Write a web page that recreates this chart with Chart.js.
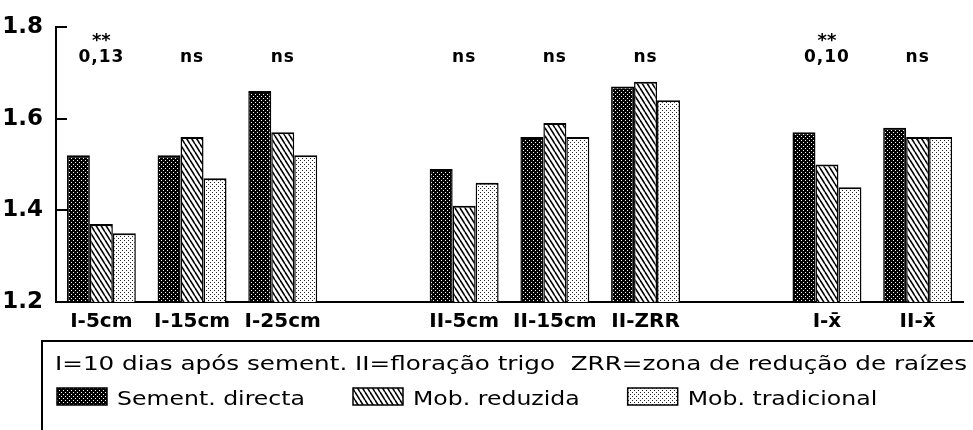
<!DOCTYPE html>
<html>
<head>
<meta charset="utf-8">
<script src="https://cdn.jsdelivr.net/npm/chart.js@4.4.1/dist/chart.umd.min.js"></script>
<style>
  html, body { margin: 0; padding: 0; background: #fff; }
  #wrap { width: 973px; height: 430px; }
</style>
</head>
<body>
<div id="wrap"><canvas id="densChart" width="973" height="430"></canvas></div>
<script>
// blank slots separate the three blocks of bars
const categories = ["I-5cm", "I-15cm", "I-25cm", "", "II-5cm", "II-15cm", "II-ZRR", "", "I-x\u0304", "II-x\u0304"];
const sementDirecta  = [1.52, 1.52, 1.66, null, 1.49, 1.56, 1.67, null, 1.57, 1.58];
const mobReduzida    = [1.37, 1.56, 1.57, null, 1.41, 1.59, 1.68, null, 1.50, 1.56];
const mobTradicional = [1.35, 1.47, 1.52, null, 1.46, 1.56, 1.64, null, 1.45, 1.56];
const signif = ["0,13", "ns", "ns", "", "ns", "ns", "ns", "", "0,10", "ns"];
const stars  = ["**", "", "", "", "", "", "", "", "**", ""];
const yTicks = [1.2, 1.4, 1.6, 1.8];
const noteText = "I=10 dias após sement. II=floração trigo  ZRR=zona de redução de raízes";

const FONT = '"DejaVu Sans", sans-serif';

function makePattern(kind) {
  const c = document.createElement("canvas");
  const g = c.getContext("2d");
  if (kind === "dark") {
    c.width = 4; c.height = 4;
    g.fillStyle = "#000"; g.fillRect(0, 0, 4, 4);
    g.fillStyle = "#fff";
    g.fillRect(1, 0, 1, 1); g.fillRect(3, 2, 1, 1);
  } else if (kind === "stripes") {
    c.width = 5; c.height = 8;
    g.fillStyle = "#fff"; g.fillRect(0, 0, 5, 8);
    g.strokeStyle = "#000"; g.lineWidth = 1.6;
    [-5, 0, 5].forEach(function (off) {
      g.beginPath(); g.moveTo(off, 0); g.lineTo(off + 5, 8); g.stroke();
    });
  } else {
    c.width = 4; c.height = 4;
    g.fillStyle = "#fff"; g.fillRect(0, 0, 4, 4);
    g.fillStyle = "#222";
    g.fillRect(0, 0, 1, 1); g.fillRect(2, 2, 1, 1);
  }
  return g.createPattern(c, "repeat");
}

// text stretched sideways by factor sx, left aligned at (x, y)
function wideText(ctx, text, x, y, sx) {
  ctx.save();
  ctx.translate(x, y);
  ctx.scale(sx, 1);
  ctx.fillText(text, 0, 0);
  ctx.restore();
  return ctx.measureText(text).width * sx;
}

const extras = {
  id: "extras",
  afterDraw(chart) {
    const ctx = chart.ctx;
    const x = chart.scales.x, y = chart.scales.y, area = chart.chartArea;
    ctx.save();
    ctx.fillStyle = "#000";
    ctx.strokeStyle = "#000";

    // short inward ticks on the y axis
    ctx.lineWidth = 2;
    yTicks.forEach(function (v) {
      const py = Math.round(y.getPixelForValue(v));
      ctx.beginPath(); ctx.moveTo(area.left, py); ctx.lineTo(area.left + 11, py); ctx.stroke();
    });

    // significance above each group
    ctx.textAlign = "center";
    ctx.textBaseline = "alphabetic";
    categories.forEach(function (c, i) {
      const px = x.getPixelForValue(i);
      if (signif[i]) {
        ctx.font = "bold 17px " + FONT;
        ctx.letterSpacing = "1px";
        ctx.fillText(signif[i], px, 62);
        ctx.letterSpacing = "0px";
      }
      if (stars[i]) {
        ctx.font = "bold 18px " + FONT;
        ctx.fillText(stars[i], px, 46);
      }
    });

    // legend box
    ctx.lineWidth = 2;
    ctx.strokeRect(42, 341, 1000, 200);
    ctx.textAlign = "left";
    ctx.font = "19px " + FONT;
    wideText(ctx, noteText, 55, 370, 912 / ctx.measureText(noteText).width);

    const sx = 188 / ctx.measureText(chart.data.datasets[0].label).width;
    let lx = 57;
    chart.data.datasets.forEach(function (ds) {
      ctx.fillStyle = ds.backgroundColor;
      ctx.fillRect(lx, 388, 50, 17);
      ctx.lineWidth = 1.5;
      ctx.strokeRect(lx, 388, 50, 17);
      ctx.fillStyle = "#000";
      lx += 60 + wideText(ctx, ds.label, lx + 60, 405, sx) + 48;
    });
    ctx.restore();
  }
};

const ctx = document.getElementById("densChart").getContext("2d");
const barBorder = { top: 2, left: 1.5, right: 1.5, bottom: 0 };

new Chart(ctx, {
  type: "bar",
  data: {
    labels: categories,
    datasets: [
      { label: "Sement. directa", data: sementDirecta, backgroundColor: makePattern("dark"),
        borderColor: "#000", borderWidth: barBorder },
      { label: "Mob. reduzida", data: mobReduzida, backgroundColor: makePattern("stripes"),
        borderColor: "#000", borderWidth: barBorder },
      { label: "Mob. tradicional", data: mobTradicional, backgroundColor: makePattern("light"),
        borderColor: "#000", borderWidth: barBorder },
    ],
  },
  options: {
    responsive: false,
    animation: false,
    layout: { padding: { top: 25, right: 10, left: 0, bottom: 0 } },
    datasets: { bar: { categoryPercentage: 0.76, barPercentage: 1.0 } },
    plugins: { legend: { display: false }, tooltip: { enabled: false } },
    scales: {
      x: {
        grid: { display: false, drawTicks: false },
        border: { display: true, color: "#000", width: 2 },
        ticks: { color: "#000", font: { family: FONT, size: 20, weight: "bold" }, padding: 8,
                 autoSkip: false, maxRotation: 0 },
        afterFit: function (s) { s.height = 128; },
      },
      y: {
        min: 1.2,
        max: 1.8,
        grid: { display: false, drawTicks: false },
        border: { display: true, color: "#000", width: 2 },
        ticks: {
          color: "#000", font: { family: FONT, size: 23, weight: "bold" }, padding: 13, stepSize: 0.2,
          callback: function (v) { return v.toFixed(1); },
        },
        afterFit: function (s) { s.width = 56; },
      },
    },
  },
  plugins: [extras],
});
</script>
</body>
</html>
